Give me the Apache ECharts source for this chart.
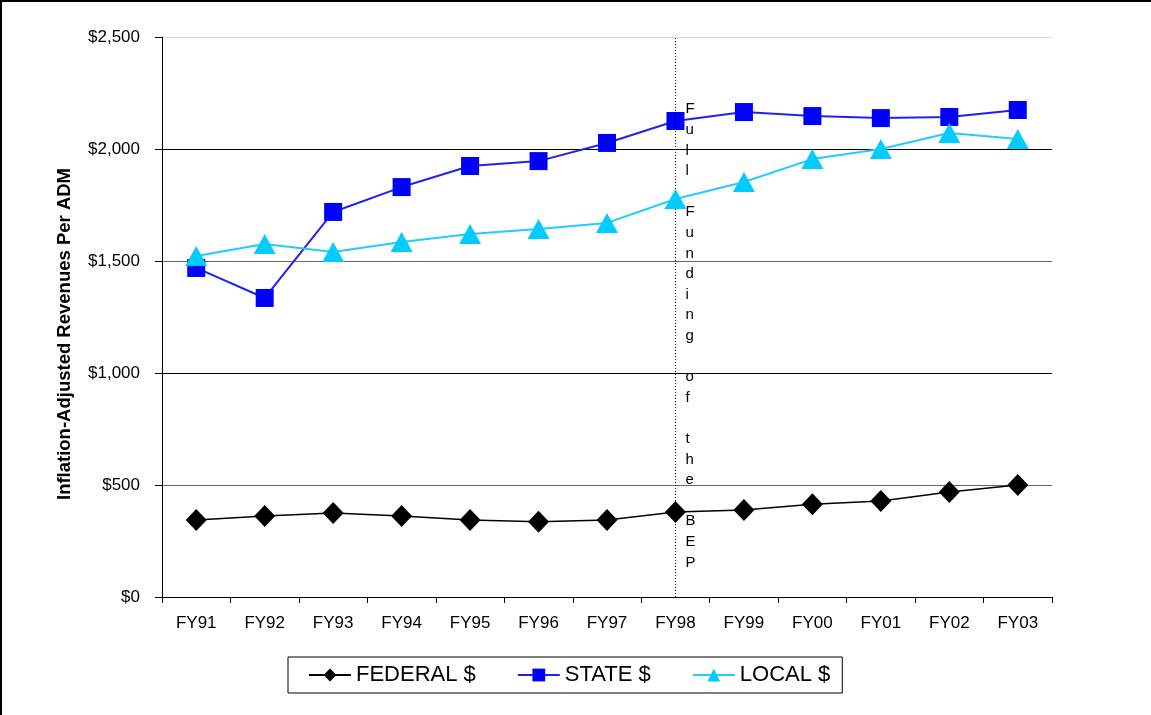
<!DOCTYPE html>
<html>
<head>
<meta charset="utf-8">
<script src="https://cdn.jsdelivr.net/npm/echarts@6/dist/echarts.min.js"></script>
<style>html,body{margin:0;padding:0;background:#fff}#c{width:1151px;height:715px}</style>
</head>
<body>
<div id="c"></div>
<script>
const categories = ['FY91','FY92','FY93','FY94','FY95','FY96','FY97','FY98','FY99','FY00','FY01','FY02','FY03'];
const federal = [344, 362, 375, 362, 344, 336, 344, 379, 388, 414, 429, 469, 500];
const state   = [1469, 1335, 1719, 1830, 1924, 1946, 2027, 2125, 2165, 2147, 2138, 2143, 2174];
const local   = [1522, 1576, 1540, 1585, 1621, 1643, 1670, 1777, 1853, 1955, 2000, 2071, 2045];
const yTicks = [0, 500, 1000, 1500, 2000, 2500];
const markerCategory = 'FY98';
const annotation = 'Full Funding of the BEP';

const chart = echarts.init(document.getElementById('c'));
const font = 'Arial, "Liberation Sans", sans-serif';

chart.setOption({
  animation: false,
  backgroundColor: '#fff',
  grid: { left: 162, right: 99, top: 37, bottom: 118 },
  xAxis: {
    type: 'category',
    data: categories,
    boundaryGap: true,
    axisLine: { lineStyle: { color: '#000', width: 1 } },
    axisTick: { show: true, length: 6, inside: false, alignWithLabel: false, lineStyle: { color: '#000' } },
    axisLabel: { color: '#000', fontSize: 17, fontFamily: font, margin: 18 },
    splitLine: { show: false }
  },
  yAxis: {
    type: 'value',
    min: yTicks[0],
    max: yTicks[yTicks.length - 1],
    interval: 500,
    name: 'Inflation-Adjusted Revenues Per ADM',
    nameLocation: 'middle',
    nameGap: 88,
    nameTextStyle: { color: '#000', fontSize: 18.5, fontWeight: 'bold', fontFamily: font, padding: [0, 34, 0, 0] },
    axisLine: { show: true, lineStyle: { color: '#000', width: 1 } },
    axisTick: { show: true, length: 7, lineStyle: { color: '#000' } },
    axisLabel: {
      color: '#000', fontSize: 17, fontFamily: font, margin: 22,
      formatter: v => '$' + v.toLocaleString('en-US')
    },
    splitLine: { show: true, lineStyle: { color: ['#000', '#666', '#000', '#666', '#000', '#ddd'], width: 1 } }
  },
  legend: {
    left: 288,
    top: 657,
    orient: 'horizontal',
    padding: [7, 12, 7, 20],
    itemGap: 41,
    itemWidth: 42,
    itemHeight: 16,
    borderColor: '#000',
    borderWidth: 1,
    textStyle: { color: '#000', fontSize: 22, fontFamily: font },
    data: ['FEDERAL $', 'STATE $', 'LOCAL $']
  },
  series: [
    {
      name: 'FEDERAL $',
      type: 'line',
      data: federal,
      symbol: 'diamond',
      symbolSize: [21, 22],
      lineStyle: { color: '#000', width: 1.5 },
      itemStyle: { color: '#000' },
      z: 3,
      markLine: {
        silent: true,
        symbol: ['none', 'none'],
        label: { show: false },
        lineStyle: { color: '#000', type: [1, 2], width: 1 },
        data: [{ xAxis: markerCategory }]
      }
    },
    {
      name: 'STATE $',
      type: 'line',
      data: state,
      symbol: 'rect',
      symbolSize: 18,
      lineStyle: { color: '#2222ee', width: 2 },
      itemStyle: { color: '#0000ff' },
      z: 4
    },
    {
      name: 'LOCAL $',
      type: 'line',
      data: local,
      symbol: 'triangle',
      symbolSize: [22, 20],
      lineStyle: { color: '#22ccff', width: 2 },
      itemStyle: { color: '#00ccff' },
      z: 5
    }
  ]
});

const px = chart.convertToPixel({ xAxisIndex: 0 }, markerCategory);
const topY = chart.convertToPixel({ yAxisIndex: 0 }, yTicks[yTicks.length - 1]);
chart.setOption({
  graphic: [
    {
      type: 'text',
      left: px + 10,
      top: topY + 62,
      style: {
        text: annotation.split('').join('\n'),
        fill: '#000',
        font: '15px ' + font,
        lineHeight: 20.6,
        align: 'center'
      },
      z: 10
    },
    {
      type: 'rect',
      shape: { x: 1, y: 1, width: 1300, height: 900 },
      style: { fill: 'none', stroke: '#000', lineWidth: 2 },
      silent: true
    }
  ]
});
</script>
</body>
</html>
